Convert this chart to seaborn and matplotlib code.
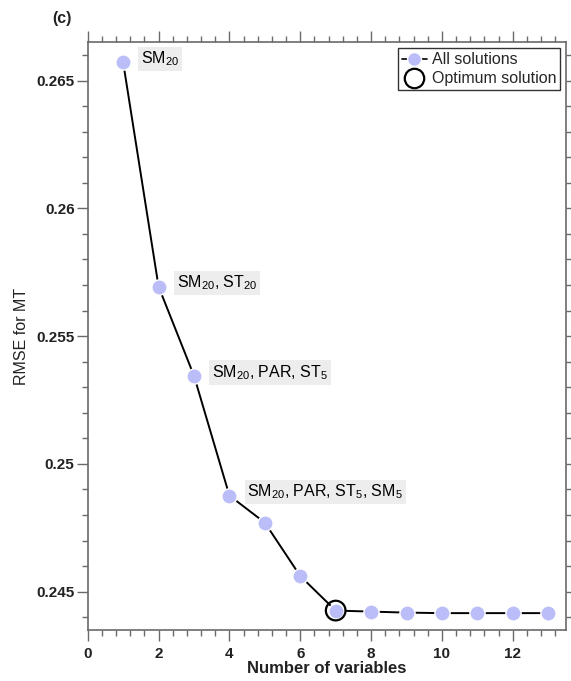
import matplotlib
matplotlib.use("Agg")
import matplotlib.pyplot as plt
import seaborn as sns
import numpy as np
import pandas as pd
from matplotlib.lines import Line2D
from matplotlib.ticker import MultipleLocator

# ---- data ----
n_vars = [1, 2, 3, 4, 5, 6, 7, 8, 9, 10, 11, 12, 13]
rmse = [0.26572, 0.25694, 0.25345, 0.24876, 0.24770, 0.24561, 0.24426,
        0.24422, 0.24418, 0.24416, 0.24416, 0.24416, 0.24416]
optimum_n = 7
label_idx = [0, 1, 2, 3]
label_texts = ["SM$_{20}$", "SM$_{20}$, ST$_{20}$", "SM$_{20}$, PAR, ST$_5$",
               "SM$_{20}$, PAR, ST$_5$, SM$_5$"]
y_ticks = [0.245, 0.25, 0.255, 0.26, 0.265]
y_tick_labels = ["0.245", "0.25", "0.255", "0.26", "0.265"]
x_ticks = [0, 2, 4, 6, 8, 10, 12]
legend_labels = ["All solutions", "Optimum solution"]

df = pd.DataFrame({"n": n_vars, "rmse": rmse})

sns.set_theme(style="ticks")
plt.rcParams["font.family"] = ["Liberation Sans", "DejaVu Sans"]
plt.rcParams["mathtext.default"] = "regular"

fig = plt.figure(figsize=(5.71, 6.81), dpi=100)
ax = fig.add_axes([0.1536, 0.0749, 0.9912 - 0.1536, 0.9379 - 0.0749])

pt_color = "#BABDF7"
sns.lineplot(data=df, x="n", y="rmse", ax=ax, color="black", linewidth=1.4,
             zorder=2, legend=False)
sns.scatterplot(data=df, x="n", y="rmse", ax=ax, color=pt_color, s=120,
                edgecolor="white", linewidth=1.0, zorder=3, legend=False)
opt = df[df["n"] == optimum_n]
sns.scatterplot(data=opt, x="n", y="rmse", ax=ax, facecolor="none",
                edgecolor="black", s=200, linewidth=1.6, zorder=4, legend=False)

for i, txt in zip(label_idx, label_texts):
    ax.annotate(txt, xy=(n_vars[i], rmse[i]), xytext=(13, 2.5),
                textcoords="offset points", ha="left", va="center",
                fontsize=11.5, color="black",
                bbox=dict(boxstyle="square,pad=0.18", fc="#EDEDED", ec="none"))

ax.set_xlim(0, 13.5)
ax.set_ylim(0.2435, 0.2665)
ax.set_xticks(x_ticks)
ax.xaxis.set_minor_locator(MultipleLocator(0.4))
ax.set_yticks(y_ticks)
ax.set_yticklabels(y_tick_labels)
ax.yaxis.set_minor_locator(MultipleLocator(0.001))

spine_c = "#6A6A6A"
for s in ax.spines.values():
    s.set_visible(True)
    s.set_color(spine_c)
    s.set_linewidth(1.2)

ax.tick_params(which="both", direction="out", color=spine_c, width=1.0,
               top=True, right=True, labeltop=False, labelright=False)
ax.tick_params(which="major", length=8)
ax.tick_params(which="minor", length=4.5)
ax.tick_params(axis="y", which="major", pad=1.5)
ax.tick_params(axis="x", which="major", pad=4)
for lab in ax.get_xticklabels() + ax.get_yticklabels():
    lab.set_fontweight("bold")
    lab.set_fontsize(11)
    lab.set_color("#222222")

ax.set_xlabel("Number of variables", fontsize=12, fontweight="bold",
              color="#222222", labelpad=0)
ax.set_ylabel("RMSE for MT", fontsize=11.5, color="#222222", labelpad=5)

h1 = Line2D([0], [0], color="black", linewidth=1.2, marker="o",
            markersize=10, markerfacecolor=pt_color, markeredgecolor="white",
            markeredgewidth=1.0)
h2 = Line2D([0], [0], color="none", marker="o", markersize=14,
            markerfacecolor="none", markeredgecolor="black",
            markeredgewidth=1.6)
leg = ax.legend([h1, h2], legend_labels, loc="upper right",
                bbox_to_anchor=(0.995, 0.995), fontsize=11.5, frameon=True,
                fancybox=False, handlelength=1.6, handletextpad=0.3,
                borderpad=0.25, labelspacing=0.25, borderaxespad=0.2)
leg.get_frame().set_edgecolor("#333333")
leg.get_frame().set_linewidth(1.0)
leg.get_frame().set_alpha(1)

fig.text(52 / 571, 1 - 19 / 681, "(c)", fontsize=11.5, fontweight="bold",
         ha="left", va="center", color="#222222")

fig.savefig("out.png", dpi=100)
